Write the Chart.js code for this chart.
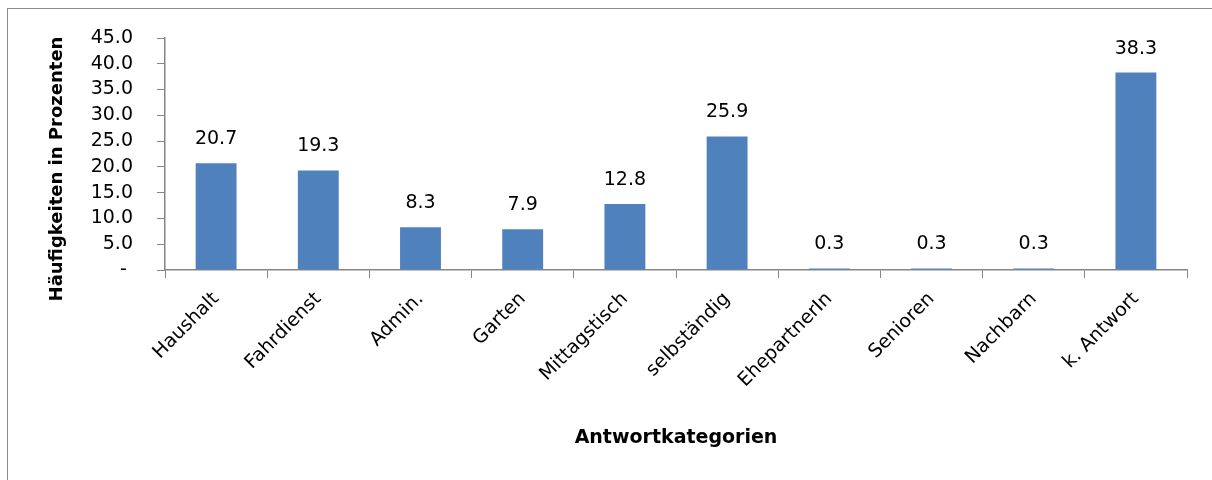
<!DOCTYPE html>
<html>
<head>
<meta charset="utf-8">
<script src="https://cdn.jsdelivr.net/npm/chart.js@4"></script>
<style>
    body { margin: 0; background: #fff; overflow: hidden; }
    #wrap { position: relative; width: 1212px; height: 480px; }
    #frame { position: absolute; left: 7px; top: 8px; width: 1300px; height: 600px; border: 1.5px solid #8c8c8c; }
    #chart { position: absolute; left: 0; top: 0; }
</style>
</head>
<body>
<div id="wrap">
    <div id="frame"></div>
    <canvas id="chart" width="1212" height="480"></canvas>
</div>
<script>
const categories = ['Haushalt', 'Fahrdienst', 'Admin.', 'Garten', 'Mittagstisch', 'selbständig', 'EhepartnerIn', 'Senioren', 'Nachbarn', 'k. Antwort'];
const values = [20.7, 19.3, 8.3, 7.9, 12.8, 25.9, 0.3, 0.3, 0.3, 38.3];
const yMin = 0;
const yMax = 45;
const yStep = 5;
const yTitle = 'Häufigkeiten in Prozenten';
const xTitle = 'Antwortkategorien';

const fontFamily = '"DejaVu Sans", sans-serif';
const axisColor = '#868686';

// labels above each bar + y title (sits a bit lower than the axis middle, like the original)
const valueLabels = {
    id: 'valueLabels',
    afterDatasetsDraw(chart) {
        const ctx = chart.ctx;
        const meta = chart.getDatasetMeta(0);
        ctx.save();
        ctx.font = '19px ' + fontFamily;
        ctx.fillStyle = '#000';
        ctx.textAlign = 'center';
        ctx.textBaseline = 'alphabetic';
        meta.data.forEach((bar, i) => {
            ctx.fillText(values[i].toFixed(1), bar.x, bar.y - 19);
        });

        const area = chart.chartArea;
        ctx.translate(57, (area.top + area.bottom) / 2 + 15);
        ctx.rotate(-Math.PI / 2);
        ctx.font = 'bold 18px ' + fontFamily;
        ctx.textBaseline = 'middle';
        ctx.fillText(yTitle, 0, 0);
        ctx.restore();
    }
};

new Chart(document.getElementById('chart'), {
    type: 'bar',
    data: {
        labels: categories,
        datasets: [{
            data: values,
            backgroundColor: '#4f81bd',
            borderWidth: 0,
            barPercentage: 0.4,
            categoryPercentage: 1
        }]
    },
    options: {
        responsive: false,
        animation: false,
        layout: { padding: { left: 0, top: 38, right: 25, bottom: 0 } },
        plugins: {
            legend: { display: false },
            tooltip: { enabled: false }
        },
        scales: {
            y: {
                min: yMin,
                max: yMax,
                afterFit(scale) { scale.width = 165; },
                ticks: {
                    stepSize: yStep,
                    autoSkip: false,
                    color: '#000',
                    padding: 24,
                    font: { family: fontFamily, size: 19 },
                    callback: v => v === 0 ? '- ' : v.toFixed(1)
                },
                grid: { drawOnChartArea: false, drawTicks: true, tickLength: 8, color: axisColor },
                border: { display: true, color: axisColor, width: 1.5 }
            },
            x: {
                afterFit(scale) { scale.height = 210; },
                ticks: {
                    color: '#000',
                    maxRotation: 45,
                    minRotation: 45,
                    padding: 10,
                    autoSkip: false,
                    font: { family: fontFamily, size: 19 }
                },
                grid: { drawOnChartArea: false, drawTicks: true, tickLength: 8, color: axisColor, offset: true },
                border: { display: true, color: axisColor, width: 1.5 },
                title: {
                    display: true,
                    text: xTitle,
                    color: '#000',
                    font: { family: fontFamily, size: 19, weight: 'bold' },
                    padding: { top: 0, bottom: 31 }
                }
            }
        }
    },
    plugins: [valueLabels]
});
</script>
</body>
</html>
